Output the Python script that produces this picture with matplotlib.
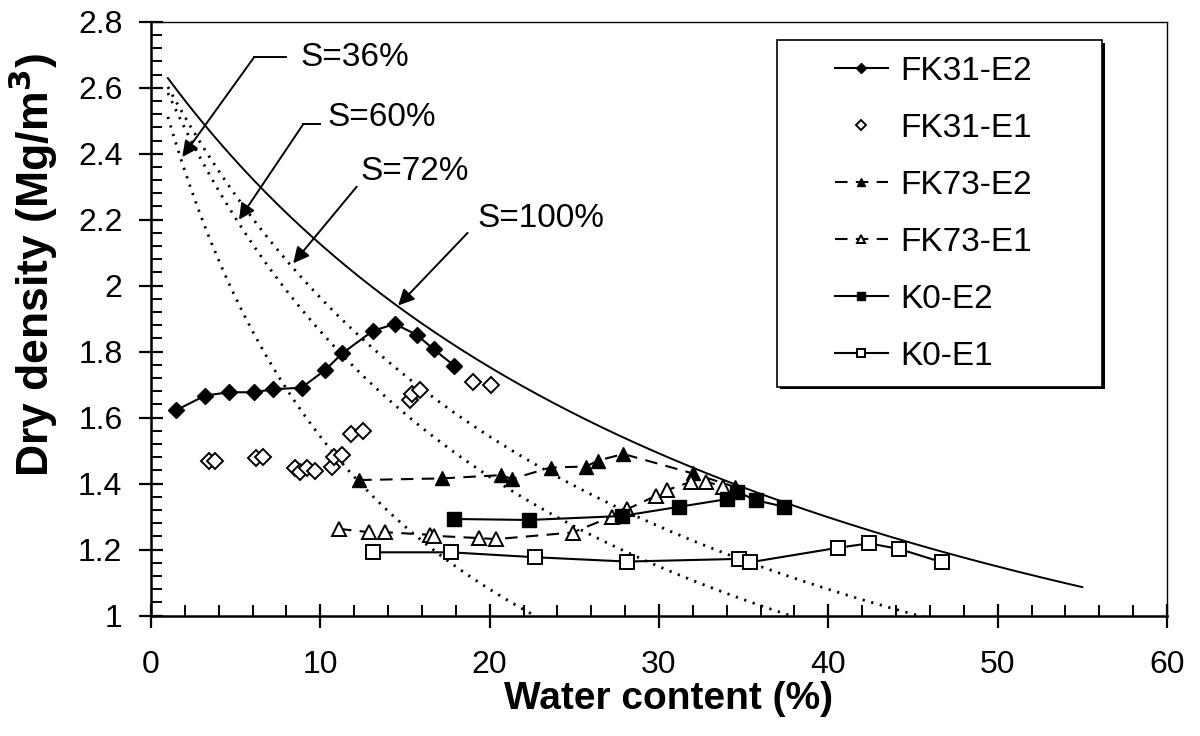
import numpy as np
import matplotlib
matplotlib.use('Agg')
import matplotlib.pyplot as plt
from matplotlib.patches import Rectangle

plt.rcParams['font.family'] = ['Liberation Sans', 'DejaVu Sans']

# measured series (water content %, dry density Mg/m3)
fk31_e2_w = [1.5, 3.2, 4.6, 6.1, 7.2, 8.9, 10.3, 11.3, 13.1, 14.4, 15.7, 16.7, 17.9]
fk31_e2_d = [1.623, 1.667, 1.677, 1.677, 1.686, 1.691, 1.745, 1.795, 1.863, 1.884, 1.851, 1.807, 1.758]

fk31_e1_w = [3.4, 3.8, 6.2, 6.6, 8.5, 8.8, 9.2, 9.7, 10.7, 10.8, 11.3, 11.8, 12.5, 15.3, 15.4, 15.9, 19.0, 20.1]
fk31_e1_d = [1.470, 1.470, 1.479, 1.482, 1.449, 1.436, 1.447, 1.439, 1.452, 1.482, 1.487, 1.551, 1.560,
             1.654, 1.672, 1.684, 1.709, 1.699]

fk73_e2_w = [12.3, 17.2, 20.7, 21.3, 23.6, 25.7, 26.4, 27.9, 32.0, 34.5]
fk73_e2_d = [1.411, 1.416, 1.426, 1.414, 1.449, 1.452, 1.470, 1.490, 1.431, 1.390]

fk73_e1_w = [11.1, 12.9, 13.8, 16.5, 16.7, 19.4, 20.4, 24.9, 27.2, 28.1, 29.8, 30.5, 31.9, 32.8, 33.8]
fk73_e1_d = [1.263, 1.253, 1.253, 1.245, 1.242, 1.235, 1.232, 1.252, 1.300, 1.322, 1.363, 1.381, 1.406,
             1.406, 1.391]

k0_e2_w = [17.9, 22.3, 27.8, 31.2, 34.0, 34.6, 35.7, 37.4]
k0_e2_d = [1.293, 1.290, 1.302, 1.330, 1.353, 1.376, 1.350, 1.330]

k0_e1_w = [13.1, 17.7, 22.7, 28.1, 34.7, 35.4, 40.6, 42.4, 44.2, 46.7]
k0_e1_d = [1.192, 1.192, 1.177, 1.164, 1.172, 1.162, 1.206, 1.219, 1.202, 1.162]

# saturation lines: rho_d = Gs / (1 + w*Gs/S)
gs = 2.7
sat_levels = [0.36, 0.60, 0.72]
sat_labels = ['S=36%', 'S=60%', 'S=72%', 'S=100%']

fig = plt.figure(figsize=(12, 7.36), dpi=100)
ax = fig.add_axes([0.1258, 0.1635, 0.8467, 0.807])

w = np.linspace(1.0, 55.0, 400)
for s in sat_levels:
    ax.plot(w, gs / (1 + w / 100 * gs / s), color='black', lw=2.0, ls=(0, (0.8, 2.4)), zorder=1)
ax.plot(w, gs / (1 + w / 100 * gs), color='black', lw=1.4, zorder=1)

ax.plot(fk31_e2_w, fk31_e2_d, color='black', lw=1.5, marker='D', ms=8, mfc='black', label='FK31-E2', zorder=3)
ax.plot(fk31_e1_w, fk31_e1_d, ls='none', marker='D', ms=8.5, mfc='white', mec='black', mew=1.4,
        label='FK31-E1', zorder=3)
ax.plot(fk73_e2_w, fk73_e2_d, color='black', lw=1.5, ls=(0, (6, 4)), marker='^', ms=10, mfc='black',
        label='FK73-E2', zorder=3)
ax.plot(fk73_e1_w, fk73_e1_d, color='black', lw=1.5, ls=(0, (6, 4)), marker='^', ms=10, mfc='white',
        mew=1.4, label='FK73-E1', zorder=3)
ax.plot(k0_e2_w, k0_e2_d, color='black', lw=1.5, marker='s', ms=9.5, mfc='black', label='K0-E2', zorder=3)
ax.plot(k0_e1_w, k0_e1_d, color='black', lw=1.5, marker='s', ms=9.5, mfc='white', mew=1.4,
        label='K0-E1', zorder=3)

# annotation arrows for the saturation lines
arw = dict(arrowstyle='-|>', color='black', lw=1.4, mutation_scale=24, shrinkA=0, shrinkB=0)
ax.plot([6.1, 8.0], [2.693, 2.693], color='black', lw=1.4)
ax.annotate('', xy=(1.85, 2.39), xytext=(6.1, 2.693), arrowprops=arw)
ax.text(8.8, 2.693, sat_labels[0], fontsize=24, va='center')
ax.plot([9.0, 10.0], [2.49, 2.49], color='black', lw=1.4)
ax.annotate('', xy=(5.2, 2.2), xytext=(9.0, 2.49), arrowprops=arw)
ax.text(10.4, 2.51, sat_labels[1], fontsize=24, va='center')
ax.annotate('', xy=(8.4, 2.068), xytext=(12.15, 2.30), arrowprops=arw)
ax.text(12.4, 2.345, sat_labels[2], fontsize=24, va='center')
ax.annotate('', xy=(14.6, 1.94), xytext=(18.7, 2.16), arrowprops=arw)
ax.text(19.3, 2.205, sat_labels[3], fontsize=24, va='center')

ax.set_xlim(0, 60)
ax.set_ylim(1, 2.8)
ax.set_xticks(np.arange(0, 61, 10))
ax.set_xticks(np.arange(0, 61, 2), minor=True)
ax.set_yticks(np.arange(1, 2.81, 0.2))
ax.set_yticks(np.arange(1, 2.81, 0.04), minor=True)
ax.set_yticklabels(['1', '1.2', '1.4', '1.6', '1.8', '2', '2.2', '2.4', '2.6', '2.8'])
ax.tick_params(which='major', direction='inout', length=17, width=1.6, labelsize=23, pad=12)
ax.tick_params(which='minor', direction='in', length=8, width=1.4)
ax.tick_params(axis='x', which='major', pad=16)
for side in ['left', 'bottom']:
    ax.spines[side].set_linewidth(1.8)
for side in ['top', 'right']:
    ax.spines[side].set_linewidth(1.0)

ax.set_xlabel('Water content (%)', fontsize=28, fontweight='bold')
ax.set_ylabel('Dry density (Mg/m$^{\\mathbf{3}}$)', fontsize=32, fontweight='bold')
ax.xaxis.set_label_coords(0.509, -0.11)
ax.yaxis.set_label_coords(-0.09, 0.59)

# legend box
box = Rectangle((0.616, 0.385), 0.32, 0.584, transform=ax.transAxes, facecolor='white',
                edgecolor='black', lw=1.2, zorder=5)
shadow = Rectangle((0.619, 0.381), 0.32, 0.584, transform=ax.transAxes, facecolor='black',
                   edgecolor='none', zorder=4.9)
ax.add_patch(shadow)
ax.add_patch(box)
leg = ax.legend(loc='upper left', bbox_to_anchor=(0.673, 0.942), frameon=False, fontsize=24,
                handlelength=1.6, handletextpad=0.36, labelspacing=0.78, borderpad=0,
                borderaxespad=0, markerscale=0.6)
leg.set_zorder(6)

fig.savefig('out.png', dpi=100)
